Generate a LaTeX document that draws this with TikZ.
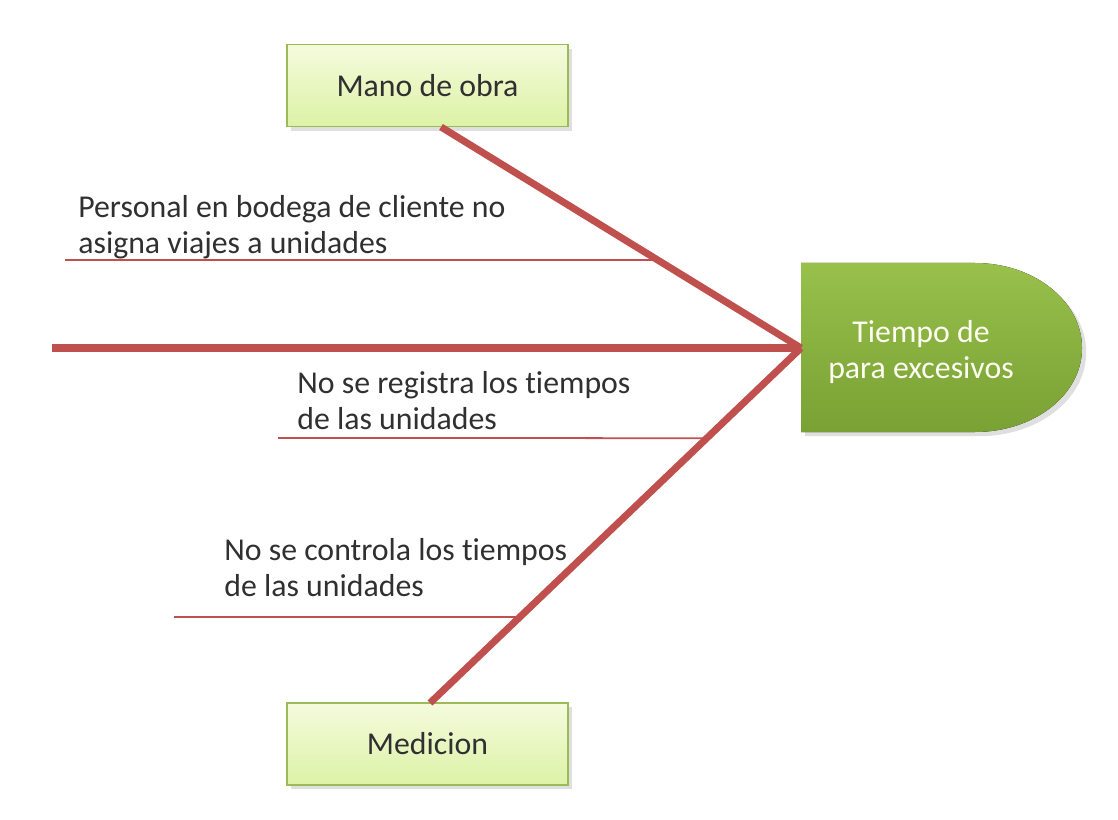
\documentclass[tikz,border=0pt]{standalone}
\usepackage{fontspec}
\setmainfont{Carlito}[Ligatures=NoCommon]
\usetikzlibrary{shadows,calc}

\definecolor{hueso}{HTML}{C0504D}
\definecolor{cajaborde}{HTML}{9BBB59}
\definecolor{cajaarriba}{HTML}{F4FBDD}
\definecolor{cajaabajo}{HTML}{DDF2A6}
\definecolor{cabezaarriba}{HTML}{98C04B}
\definecolor{cabezaabajo}{HTML}{79A134}
\definecolor{texto}{HTML}{303030}

\begin{document}
\begin{tikzpicture}[x=0.02cm,y=-0.02cm,
	letra/.style={font=\fontsize{18.1}{20.7}\selectfont, text=texto},
	caja/.style={letra, draw=cajaborde, line width=0.8pt, top color=cajaarriba, bottom color=cajaabajo,
		minimum width=5.62cm, minimum height=1.64cm, drop shadow={opacity=0.25}},
	espina/.style={hueso, line width=4pt},
	causa/.style={hueso, line width=1pt},
	nota/.style={letra, align=left, anchor=north west, inner sep=0pt}]
	\useasboundingbox (0,0) rectangle (1118,820);

	% categorias
	\node[caja] (manobra) at (427.5,85.5) {Mano de obra};
	\node[caja] (medicion) at (427.5,744) {Medicion};

	% efecto
	\fill[top color=cabezaarriba, bottom color=cabezaabajo, drop shadow={opacity=0.25}]
		(801,263) -- (975,263) .. controls (1034,263) and (1082,301) .. (1082,348)
		.. controls (1082,395) and (1034,432) .. (975,432) -- (801,432) -- cycle;
	\node[letra, text=white!95!yellow, align=center, inner sep=0pt] (efecto) at (921,352) {Tiempo de\\para excesivos};
	\coordinate (cabeza) at (801,348);
	\coordinate (cola) at (52,348);

	% espinas
	\coordinate (arriba) at (441,127);
	\coordinate (abajo) at (430,703);
	\draw[espina] (cola) -- (cabeza);
	\draw[espina] (arriba) -- (cabeza);
	\draw[espina] (abajo) -- (cabeza);

	% causas
	\coordinate (c1a) at (65,260);   \coordinate (c1b) at ($(arriba)!0.602!(cabeza)$);
	\coordinate (c2a) at (278,438);  \coordinate (c2b) at ($(abajo)!0.746!(cabeza)$);
	\coordinate (c3a) at (174,617);  \coordinate (c3b) at ($(abajo)!0.242!(cabeza)$);
	\draw[causa] (c1a) -- (c1b);
	\draw[causa] (c2a) -- (c2b);
	\draw[causa] (c3a) -- (c3b);

	\node[nota] (t1) at (78,195) {Personal en bodega de cliente no\\asigna viajes a unidades};
	\node[nota] (t2) at (297,371) {No se registra los tiempos\\de las unidades};
	\node[nota] (t3) at (224,538) {No se controla los tiempos\\de las unidades};
\end{tikzpicture}
\end{document}
